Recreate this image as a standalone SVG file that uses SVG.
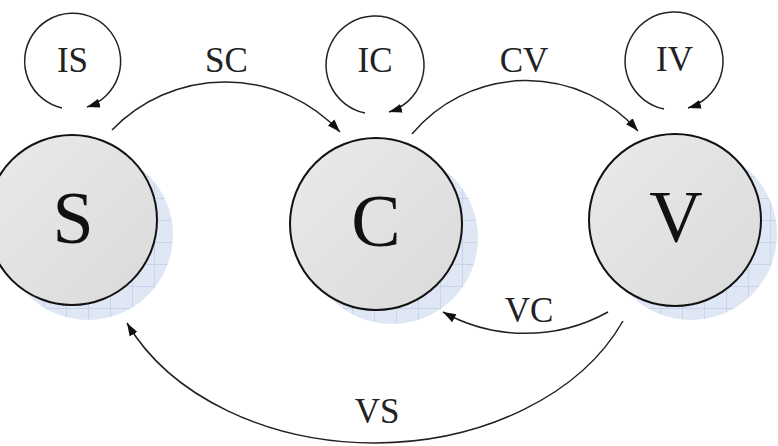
<svg xmlns="http://www.w3.org/2000/svg" width="778" height="446" viewBox="0 0 778 446">
<style>
.lbl{font-family:"Liberation Serif","Times New Roman",serif;font-size:35px;fill:#222;text-anchor:middle}
.big{font-family:"Liberation Serif","Times New Roman",serif;font-size:74px;fill:#111;text-anchor:middle}
.node{fill:url(#nodeFill);stroke:#111;stroke-width:2}
.shadow{fill:url(#grid)}
.edge{fill:none;stroke:#222;stroke-width:1.5;marker-end:url(#arr)}
</style>
<defs>
<linearGradient id="nodeFill" x1="0" y1="0" x2="1" y2="1">
<stop offset="0" stop-color="#e9eaec"/>
<stop offset="1" stop-color="#dadada"/>
</linearGradient>
<pattern id="grid" patternUnits="userSpaceOnUse" width="22" height="22">
<rect width="22" height="22" fill="#dfe7f5"/>
<path d="M0 0.5H22M0.5 0V22" stroke="#c8d4ea" stroke-width="1"/>
</pattern>
<marker id="arr" markerUnits="userSpaceOnUse" markerWidth="14" markerHeight="10" refX="13" refY="4.5" orient="auto">
<path d="M0 0L13 4.5L0 9z" fill="#111"/>
</marker>
</defs>
<rect width="778" height="446" fill="#fff"/>
<g id="connectors">
<path class="edge" d="M62 108A48 48 0 1 1 87 107"/>
<path class="edge" d="M365 113A49 49 0 1 1 389 112"/>
<path class="edge" d="M664 109A49 49 0 1 1 688 108"/>
<path class="edge" d="M112 130A157 157 0 0 1 340 132"/>
<path class="edge" d="M412 134A149 149 0 0 1 638 131"/>
<path class="edge" d="M608 312A170 170 0 0 1 443 312"/>
<path class="edge" d="M623 321A270 200 0 0 1 127 323"/>
<text class="lbl" x="72.5" y="72">IS</text>
<text class="lbl" x="375" y="72">IC</text>
<text class="lbl" x="674.5" y="71">IV</text>
<text class="lbl" x="226.5" y="72">SC</text>
<text class="lbl" x="524" y="72">CV</text>
<text class="lbl" x="529" y="322">VC</text>
<text class="lbl" x="377" y="423">VS</text>
</g>
<g id="S">
<circle class="shadow" cx="88" cy="235" r="85"/>
<circle class="node" cx="72" cy="220" r="85"/>
<text class="big" x="73" y="243">S</text>
</g>
<g id="C">
<circle class="shadow" cx="392" cy="238" r="86"/>
<circle class="node" cx="376" cy="224" r="86"/>
<text class="big" x="376" y="246">C</text>
</g>
<g id="V">
<circle class="shadow" cx="691" cy="234" r="86"/>
<circle class="node" cx="675" cy="220" r="86"/>
<text class="big" x="676" y="242">V</text>
</g>
</svg>
